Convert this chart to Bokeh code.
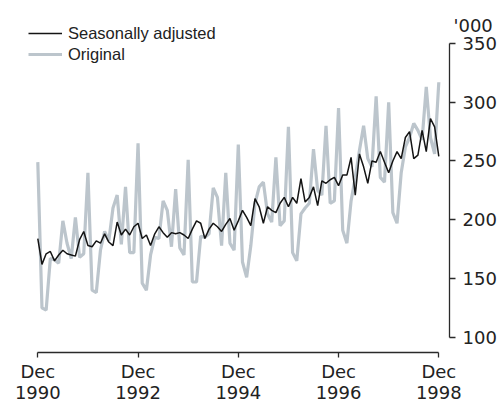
from bokeh.plotting import figure
from bokeh.models import Range1d, FixedTicker, Legend, LegendItem, Label, LabelSet, ColumnDataSource
from bokeh.core.properties import value
from bokeh.embed import file_html
from bokeh.resources import INLINE

# ---- data (monthly, Dec 1990 = 0 ... Dec 1998 = 96), '000 ----
months = list(range(97))

seasonally_adjusted = [
    184, 162, 171, 173, 165, 170, 174, 171, 170, 169, 183, 190,
    178, 177, 182, 180, 188, 181, 178, 198, 187, 192, 187, 194,
    197, 184, 187, 178, 188, 194, 189, 185, 189, 188, 189, 187,
    184, 192, 199, 197, 184, 192, 197, 194, 190, 196, 201, 191,
    199, 208, 202, 195, 218, 211, 197, 211, 208, 206, 214, 219,
    211, 219, 214, 235, 215, 219, 228, 212, 233, 231, 234, 236,
    229, 238, 238, 253, 221, 256, 245, 231, 250, 249, 258, 249,
    240, 250, 258, 252, 270, 275, 252, 255, 276, 258, 286, 279,
    254,
]

original = [
    249, 125, 123, 167, 166, 163, 199, 180, 167, 202, 168, 171,
    240, 140, 138, 174, 190, 182, 210, 221, 179, 228, 172, 172,
    265, 146, 140, 170, 185, 184, 216, 208, 177, 226, 176, 170,
    251, 147, 147, 186, 185, 188, 227, 219, 178, 240, 180, 174,
    264, 164, 151, 178, 214, 228, 232, 205, 198, 253, 195, 199,
    279, 172, 165, 205, 210, 214, 260, 225, 221, 280, 214, 216,
    295, 191, 180, 216, 236, 259, 280, 252, 245, 305, 236, 232,
    300, 206, 197, 240, 262, 270, 282, 276, 268, 313, 270, 256,
    317,
]

x_ticks = [0, 24, 48, 72, 96]
x_tick_months = ["Dec", "Dec", "Dec", "Dec", "Dec"]
x_tick_years = ["1990", "1992", "1994", "1996", "1998"]
y_ticks = [100, 150, 200, 250, 300, 350]
unit_label = "'000"
series_names = ["Seasonally adjusted", "Original"]

# ---- layout (pixels) ----
W, H = 500, 403
px_first, px_last = 37.3, 438.3      # x pixel of first / last tick
py_low, py_high = 336.7, 43.0        # y pixel of lowest / highest tick
x_axis_py = 352.0                    # pixel row of the x-axis line
y_axis_px = 449.0                    # pixel column of the y-axis line

sx = (px_last - px_first) / (x_ticks[-1] - x_ticks[0])
sy = (py_low - py_high) / (y_ticks[-1] - y_ticks[0])
x_start = x_ticks[0] - px_first / sx
x_end = x_start + W / sx
y_start = y_ticks[0] - (H - py_low) / sy
y_end = y_start + H / sy
x_axis_at = y_ticks[0] - (x_axis_py - py_low) / sy
y_axis_at = x_ticks[0] + (y_axis_px - px_first) / sx

p = figure(
    width=W, height=H,
    output_backend="svg", toolbar_location=None,
    x_range=Range1d(x_start, x_end),
    y_range=Range1d(y_start, y_end),
    y_axis_location="right",
    min_border=0, min_border_left=0, min_border_right=0,
    min_border_top=0, min_border_bottom=0,
)
p.outline_line_color = None
p.xgrid.visible = False
p.ygrid.visible = False
p.background_fill_color = "white"
p.border_fill_color = "white"

r_orig = p.line(months, original, line_color="#BCC5CC", line_width=3.2)
r_sa = p.line(months, seasonally_adjusted, line_color="#141414", line_width=1.5)

axis_color = "#2a2a2a"
text_color = "#222222"
tick_font = "DejaVu Sans"
tick_size = "18px"

xa = p.xaxis[0]
xa.fixed_location = x_axis_at
xa.ticker = FixedTicker(ticks=x_ticks)
xa.major_label_overrides = {t: "" for t in x_ticks}
xa.bounds = (x_ticks[0], x_ticks[-1])
xa.major_tick_out = 5
xa.major_tick_in = 0
xa.minor_tick_out = 0
xa.minor_tick_in = 0
xa.major_label_standoff = 0
xa.axis_line_color = axis_color
xa.axis_line_width = 1.3
xa.major_tick_line_color = axis_color
xa.major_tick_line_width = 1.3

ya = p.yaxis[0]
ya.fixed_location = y_axis_at
ya.ticker = FixedTicker(ticks=y_ticks)
ya.bounds = (y_ticks[0], y_ticks[-1])
ya.major_tick_out = 6
ya.major_tick_in = 0
ya.minor_tick_out = 0
ya.minor_tick_in = 0
ya.major_label_standoff = 7
ya.axis_line_color = axis_color
ya.axis_line_width = 1.3
ya.major_tick_line_color = axis_color
ya.major_tick_line_width = 1.3
ya.major_label_text_font = tick_font
ya.major_label_text_font_size = tick_size
ya.major_label_text_color = text_color

# two-line x tick labels
tick_src = ColumnDataSource(dict(
    x=x_ticks, y=[x_axis_at] * len(x_ticks), month=x_tick_months, year=x_tick_years,
))
for col, off in (("month", -25.8), ("year", -46.3)):
    p.add_layout(LabelSet(
        x="x", y="y", text=col, source=tick_src, y_offset=off,
        text_align="center", text_baseline="alphabetic",
        text_font=value(tick_font), text_font_size=value(tick_size),
        text_color=value(text_color),
    ))

unit = Label(
    x=y_axis_at, y=y_ticks[-1], text=unit_label,
    x_offset=4, y_offset=18,
    text_align="left", text_baseline="alphabetic",
    text_font=tick_font, text_font_size=tick_size, text_color=text_color,
)
p.add_layout(unit)

legend = Legend(
    items=[
        LegendItem(label=series_names[0], renderers=[r_sa]),
        LegendItem(label=series_names[1], renderers=[r_orig]),
    ],
    location=(28, 339),
    padding=0, margin=0, spacing=1,
    glyph_width=34, glyph_height=20, label_height=20,
    label_standoff=6,
    label_text_font="Liberation Sans", label_text_font_size="16.5px",
    label_text_line_height=1.0,
    label_text_color=text_color,
    border_line_color=None, background_fill_alpha=0,
)
p.add_layout(legend)

open("out.html", "w").write(file_html(p, INLINE))
